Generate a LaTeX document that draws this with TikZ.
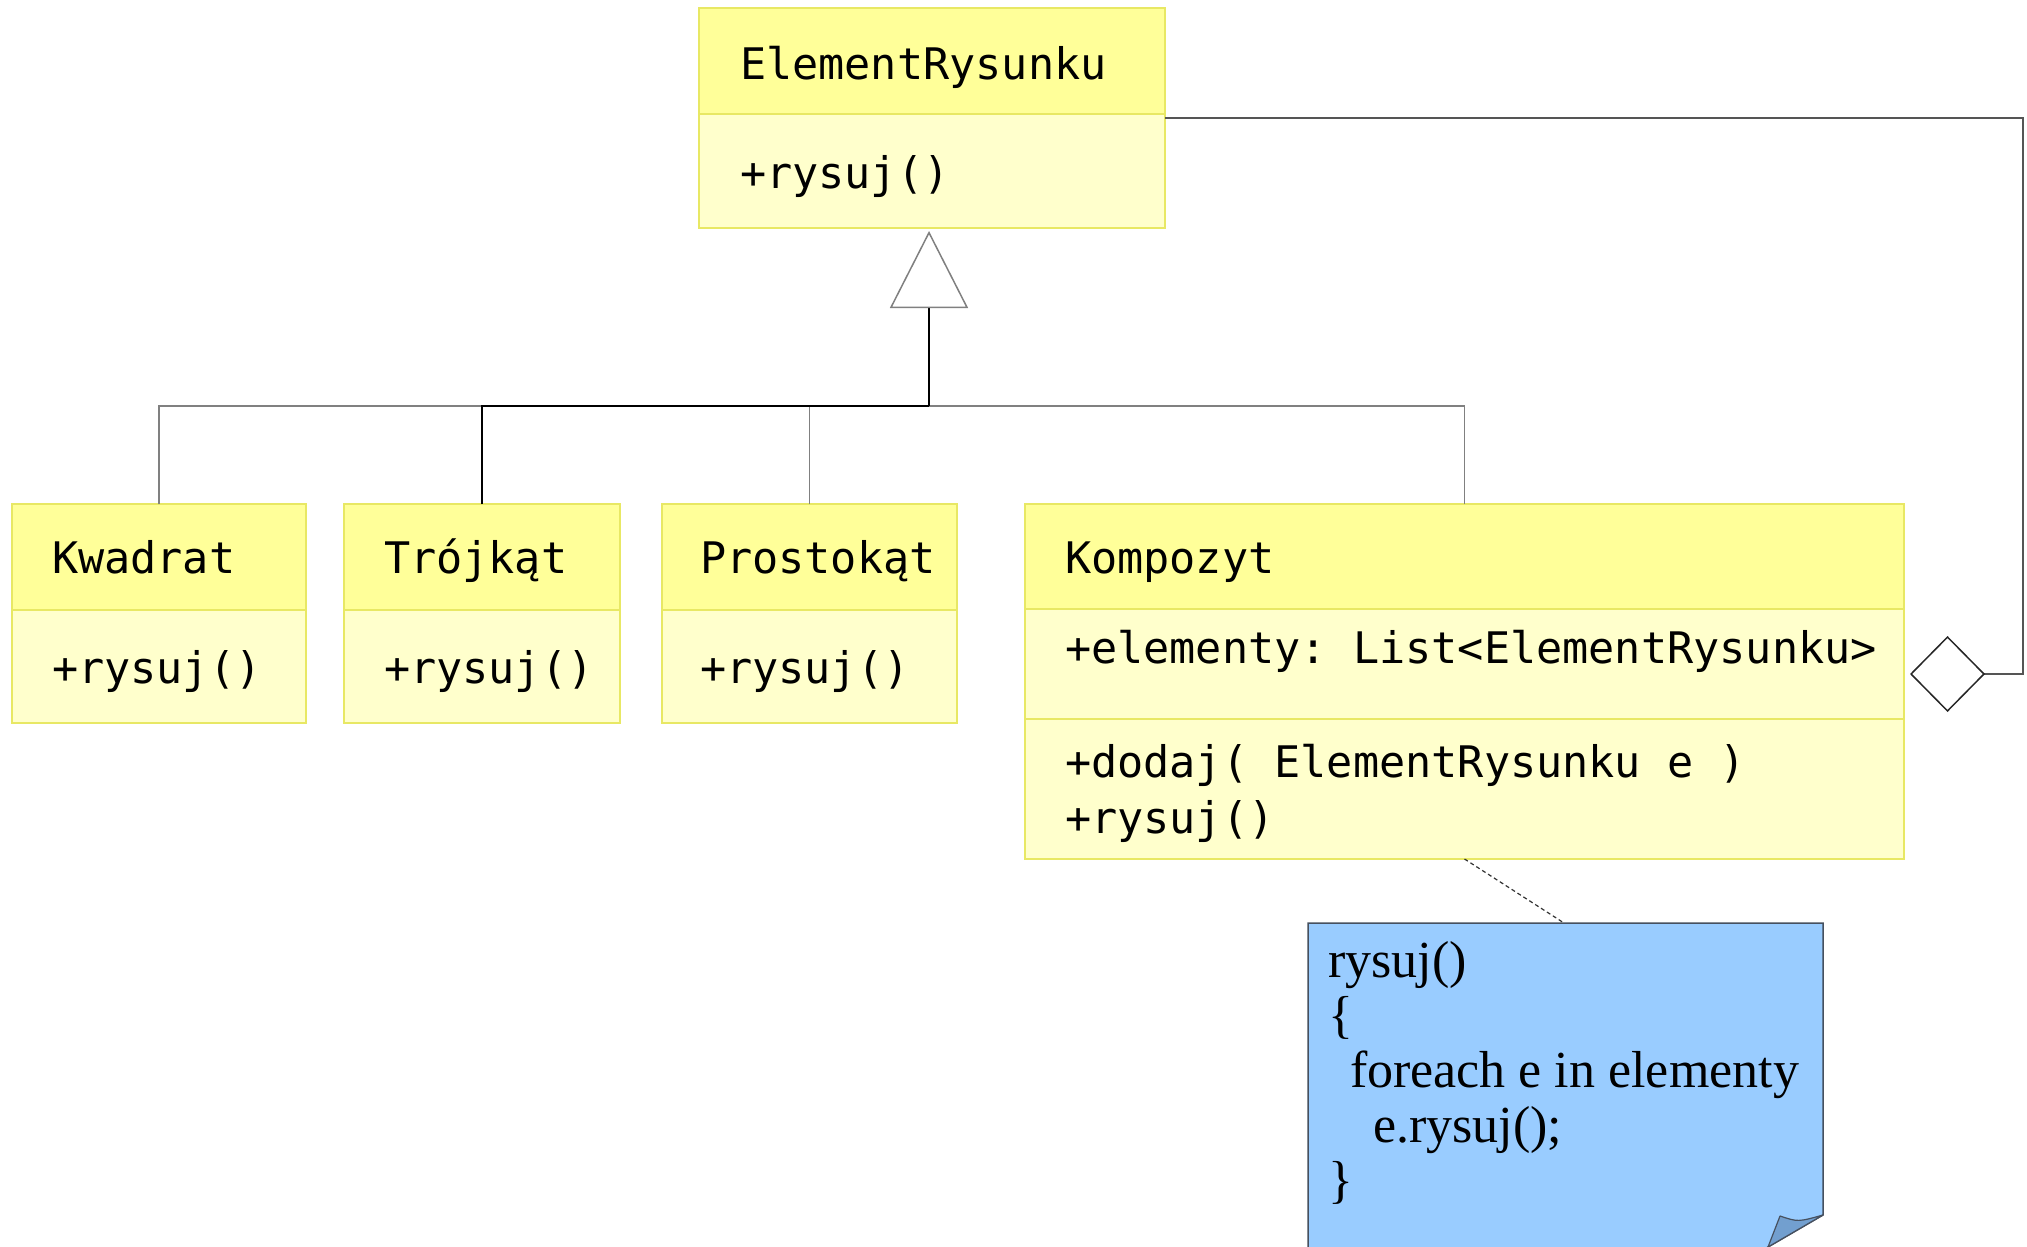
\documentclass[tikz,border=0pt]{standalone}
\usepackage{fontspec}
\setmonofont{DejaVu Sans Mono}
\newfontfamily\notefont{Liberation Serif}
\usetikzlibrary{arrows.meta,calc}
\definecolor{hdrfill}{RGB}{255,255,153}
\definecolor{bodyfill}{RGB}{255,255,204}
\definecolor{boxline}{RGB}{232,232,100}
\definecolor{notefill}{RGB}{153,204,255}
\definecolor{flapfill}{RGB}{114,159,207}
\definecolor{noteline}{RGB}{70,80,95}
\definecolor{linkgray}{RGB}{128,128,128}
\definecolor{assocgray}{RGB}{85,85,85}

\tikzset{
  part/.style={draw=boxline, line width=1.5pt, inner sep=0pt, outer sep=0pt, anchor=north west},
  hdr/.style={part, fill=hdrfill},
  cmp/.style={part, fill=bodyfill},
  lbl/.style={inner sep=0pt, outer sep=0pt, anchor=base west,
              font=\fontsize{43.5}{56}\selectfont\ttfamily, align=left},
  gen/.style={line width=1.5pt, draw=linkgray},
  genmain/.style={line width=1.5pt, draw=black},
  assoc/.style={line width=1.5pt, draw=assocgray},
  notelink/.style={line width=1.2pt, draw=black!80, dash pattern=on 4pt off 3pt},
}

\begin{document}
\begin{tikzpicture}[x=1pt,y=-1pt]
\useasboundingbox (0,0) rectangle (2027,1247);
\fill[white] (0,0) rectangle (2027,1247);

% ElementRysunku
\node[hdr, minimum width=466pt, minimum height=106pt] (erh) at (699,8) {};
\node[cmp, minimum width=466pt, minimum height=114pt] (erb) at (699,114) {};
\node[lbl] (ert) at (740,79) {ElementRysunku};
\node[lbl] (erm) at (740,188) {+rysuj()};

% Kwadrat
\node[hdr, minimum width=294pt, minimum height=106pt] (kwh) at (12,504) {};
\node[cmp, minimum width=294pt, minimum height=113pt] (kwb) at (12,610) {};
\node[lbl] (kwt) at (52,573) {Kwadrat};
\node[lbl] (kwm) at (52,683) {+rysuj()};

% Trójkąt
\node[hdr, minimum width=276pt, minimum height=106pt] (trh) at (344,504) {};
\node[cmp, minimum width=276pt, minimum height=113pt] (trb) at (344,610) {};
\node[lbl] (trt) at (384,573) {Trójkąt};
\node[lbl] (trm) at (384,683) {+rysuj()};

% Prostokąt
\node[hdr, minimum width=295pt, minimum height=106pt] (prh) at (662,504) {};
\node[cmp, minimum width=295pt, minimum height=113pt] (prb) at (662,610) {};
\node[lbl] (prt) at (700,573) {Prostokąt};
\node[lbl] (prm) at (700,683) {+rysuj()};

% Kompozyt (multi-line text: base anchor sits on the last line)
\node[hdr, minimum width=879pt, minimum height=105pt] (kph) at (1025,504) {};
\node[cmp, minimum width=879pt, minimum height=110pt] (kpa) at (1025,609) {};
\node[cmp, minimum width=879pt, minimum height=140pt] (kpm) at (1025,719) {};
\node[lbl] (kpt) at (1065,573) {Kompozyt};
\node[lbl] (kpat) at (1065,663) {+elementy: List<ElementRysunku>};
\node[lbl] (kpmt) at (1065,833) {+dodaj( ElementRysunku e )\\+rysuj()};

% generalisation tree
\coordinate (bus) at (929,406);
\coordinate (tip) at (929,231);
\draw[gen] (kwh.north) |- (bus);
\draw[gen] (prh.north) |- (bus);
\draw[gen] (kph.north) |- (bus);
\draw[genmain] (trh.north) |- (bus);
\draw[genmain, -{Triangle[open, fill=white, color=linkgray, length=77pt, width=78pt]}] (bus) -- (tip);

% aggregation from Kompozyt to ElementRysunku
\coordinate (aggBend) at (2023,118);
\coordinate (aggEnd) at (1910,674);
\draw[assoc, -{Diamond[open, fill=white, color=black!85, length=75pt, width=76pt]}]
  (erb.east |- aggBend) -- (aggBend) |- (aggEnd);

% note with folded corner
\coordinate (noteTop) at (1564,923);
\begin{scope}
  \clip (0,0) rectangle (2027,1247);
  \draw[fill=notefill, draw=noteline, line width=1.5pt]
    (1308,1300) -- (1308,923) -- (1823,923) -- (1823,1215) -- (1677,1300) -- cycle;
  \draw[fill=flapfill, draw=noteline, line width=1.2pt, line join=round]
    (1780,1216) .. controls (1798,1222) .. (1823,1215) -- (1768,1247) -- cycle;
\end{scope}
\node[inner sep=0pt, outer sep=0pt, anchor=base west, align=left,
      font=\notefont\fontsize{52}{55}\selectfont] (notetxt) at (1328,1197)
  {rysuj()\\\{\\\hspace*{22pt}foreach e in elementy\\\hspace*{45pt}e.rysuj();\\\}};
\draw[notelink] (kpm.south) -- (noteTop);
\end{tikzpicture}
\end{document}
